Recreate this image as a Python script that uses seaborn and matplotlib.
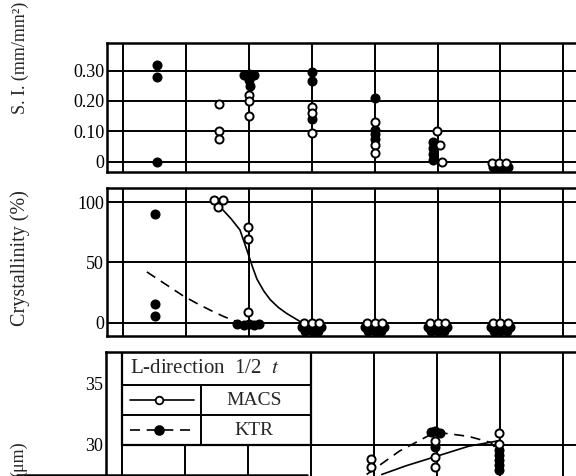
import numpy as np
import pandas as pd
import matplotlib
matplotlib.use("Agg")
import matplotlib.pyplot as plt
import seaborn as sns
from matplotlib.patches import Rectangle
from matplotlib.lines import Line2D

sns.set_theme(style="white")
plt.rcParams['font.family'] = ['Liberation Serif', 'DejaVu Serif']
plt.rcParams['mathtext.fontset'] = 'stix'

# ---------------- data ----------------
# Panel 1 : S.I. (mm/mm^2)
si_macs_x = [1.53, 1.53, 1.53, 2.0, 2.0, 2.0, 3.0, 3.0, 3.0, 4.0, 4.0, 4.0,
             4.99, 5.04, 5.07, 5.87, 5.98, 6.09]
si_macs_y = [0.19, 0.10, 0.075, 0.22, 0.20, 0.15, 0.18, 0.16, 0.095, 0.13, 0.055, 0.03,
             0.10, 0.055, 0.0, -0.005, -0.005, -0.005]
si_ktr_x = [0.535, 0.535, 0.535, 1.93, 2.0, 2.08, 2.0, 2.02, 3.0, 3.0, 3.0,
            4.0, 4.0, 4.0, 4.0, 4.93, 4.93, 4.93, 4.93, 5.88, 5.96, 6.04, 6.12]
si_ktr_y = [0.32, 0.28, 0.0, 0.285, 0.288, 0.287, 0.268, 0.25, 0.295, 0.265, 0.14,
            0.21, 0.105, 0.09, 0.075, 0.065, 0.045, 0.025, 0.005,
            -0.018, -0.018, -0.018, -0.018]

# Panel 2 : Crystallinity (%)
cr_macs_x = [1.45, 1.585, 1.505, 1.99, 1.99, 1.99,
             2.88, 3.0, 3.12, 3.88, 4.0, 4.12, 4.88, 5.0, 5.12, 5.88, 6.0, 6.12]
cr_macs_y = [101.5, 101.5, 96, 79.5, 69, 9,
             0, 0, 0, 0, 0, 0, 0, 0, 0, 0, 0, 0]
cr_ktr_x = [0.51, 0.51, 0.51, 1.82, 1.92, 2.0, 2.08, 2.16,
            2.85, 2.95, 3.05, 3.15, 2.9, 3.0, 3.1,
            3.85, 3.95, 4.05, 4.15, 3.9, 4.0, 4.1,
            4.85, 4.95, 5.05, 5.15, 4.9, 5.0, 5.1,
            5.85, 5.95, 6.05, 6.15, 5.9, 6.0, 6.1]
cr_ktr_y = [90, 15, 5, -1, -2, -1.5, -2, -1,
            -4, -4, -4, -4, -7, -7, -7,
            -4, -4, -4, -4, -7, -7, -7,
            -4, -4, -4, -4, -7, -7, -7,
            -4, -4, -4, -4, -7, -7, -7]
cr_macs_curve_x = [1.59, 1.72, 1.86, 1.99, 2.06, 2.13, 2.24, 2.34, 2.47, 2.6, 2.81]
cr_macs_curve_y = [93.4, 86, 76.8, 57, 46, 36, 26, 19, 12.5, 7.6, 1.0]
cr_ktr_curve_x = [0.38, 0.67, 0.96, 1.17, 1.38, 1.6, 1.81]
cr_ktr_curve_y = [42, 32, 22, 16, 10.4, 5, 0.7]

# Panel 3 : size (um)
gs_macs_x = [3.95, 3.95, 4.97, 4.97, 4.97, 5.98, 5.98]
gs_macs_y = [28.85, 28.2, 30.35, 29.0, 28.2, 31.0, 30.1]
gs_ktr_x = [4.9, 4.97, 5.05, 4.97, 5.98, 5.98, 5.98, 5.98, 5.98]
gs_ktr_y = [31.05, 31.1, 31.0, 29.8, 29.6, 29.2, 28.8, 28.4, 28.0]
gs_macs_curve_x = [4.12, 4.5, 4.97, 5.5, 5.98]
gs_macs_curve_y = [27.6, 28.3, 29.05, 29.9, 30.35]
gs_ktr_curve_x = [3.88, 4.4, 4.97, 5.5, 5.85, 5.95]
gs_ktr_curve_y = [27.6, 29.5, 31.05, 30.7, 30.2, 29.6]

si_ticks = [0, 0.10, 0.20, 0.30]
si_labels = ["0", "0.10", "0.20", "0.30"]
cr_ticks = [0, 50, 100]
cr_labels = ["0", "50", "100"]
gs_ticks = [30, 35]
gs_labels = ["30", "35"]
legend_title = "L-direction  1/2  $t$"
series_names = ["MACS", "KTR"]
ylabels = ["S. I. (mm/mm²)", "Crystallinity (%)", "(μm)"]

# ---------------- layout ----------------
W, H = 576, 476
fig = plt.figure(figsize=(W / 100, H / 100), dpi=100)
fig.patch.set_facecolor("white")


def px_axes(left, top, right, bottom):
    return fig.add_axes([left / W, 1 - bottom / H, (right - left) / W, (bottom - top) / H])


ax1 = px_axes(107, 42.7, 600, 171.7)
ax2 = px_axes(107, 187.7, 600, 336)
ax3 = px_axes(106, 352, 600, 560)

XL = (-0.254, 7.583)
LW_GRID = 1.4
FS = 13
MS = 34


def style(ax, yt, yl, grid_h=True):
    ax.set_xlim(*XL)
    ax.set_facecolor("white")
    ax.set_xticks(range(8))
    ax.set_xticklabels([])
    ax.set_yticks(yt)
    ax.set_yticklabels(yl, fontsize=FS)
    ax.tick_params(axis="x", length=0)
    ax.tick_params(axis="y", direction="in", length=6, width=1.3, color="black", pad=2,
                   labelcolor="black")
    for s in ax.spines.values():
        s.set_color("black")
        s.set_linewidth(1.8)
    ax.set_axisbelow(True)
    if grid_h:
        ax.grid(True, color="black", linewidth=LW_GRID)
    ax.set_xlabel("")
    ax.set_ylabel("")


def open_pts(ax, x, y):
    sns.scatterplot(x=x, y=y, ax=ax, color="white", edgecolor="black", s=MS,
                    linewidth=1.4, zorder=5, legend=False)


def filled_pts(ax, x, y):
    sns.scatterplot(x=x, y=y, ax=ax, color="black", edgecolor="black", s=MS,
                    linewidth=1.4, zorder=4, legend=False)


# Panel 1
ax1.set_ylim(-0.033, 0.392)
filled_pts(ax1, si_ktr_x, si_ktr_y)
open_pts(ax1, si_macs_x, si_macs_y)
style(ax1, si_ticks, si_labels)

# Panel 2
ax2.set_ylim(-11.2, 111.9)
sns.lineplot(x=cr_macs_curve_x, y=cr_macs_curve_y, ax=ax2, color="black", lw=1.2,
             sort=False, estimator=None, zorder=3)
sns.lineplot(x=cr_ktr_curve_x, y=cr_ktr_curve_y, ax=ax2, color="black", lw=1.2,
             sort=False, estimator=None, zorder=3, linestyle=(0, (6, 4)))
filled_pts(ax2, cr_ktr_x, cr_ktr_y)
open_pts(ax2, cr_macs_x, cr_macs_y)
style(ax2, cr_ticks, cr_labels)

# Panel 3
ax3.set_ylim(20.65, 37.56)
style(ax3, gs_ticks, gs_labels, grid_h=False)
for gx in range(8):
    ax3.axvline(gx, color="black", lw=LW_GRID, zorder=1)
ax3.hlines(30, 0, XL[1], color="black", lw=LW_GRID, zorder=1)
sns.lineplot(x=gs_macs_curve_x, y=gs_macs_curve_y, ax=ax3, color="black", lw=1.2,
             sort=False, estimator=None, zorder=3)
sns.lineplot(x=gs_ktr_curve_x, y=gs_ktr_curve_y, ax=ax3, color="black", lw=1.2,
             sort=False, estimator=None, zorder=3, linestyle=(0, (6, 4)))
filled_pts(ax3, gs_ktr_x, gs_ktr_y)
open_pts(ax3, gs_macs_x, gs_macs_y)

# legend table
top = 37.56
ax3.add_patch(Rectangle((0, 30), 3, top - 30, facecolor="white", edgecolor="black",
                        lw=1.6, zorder=2))
ax3.hlines([34.9, 32.4], 0, 3, color="black", lw=1.4, zorder=2.1)
ax3.vlines(1.25, 30, 34.9, color="black", lw=1.4, zorder=2.1)
ax3.text(0.12, 36.2, legend_title, fontsize=15, ha="left", va="center", zorder=6)
ax3.text(2.1, 33.65, series_names[0], fontsize=14, ha="center", va="center", zorder=6)
ax3.text(2.1, 31.2, series_names[1], fontsize=14, ha="center", va="center", zorder=6)
ax3.plot([0.12, 1.14], [33.65, 33.65], color="black", lw=1.2, zorder=6)
ax3.scatter([0.59], [33.65], s=30, facecolor="white", edgecolor="black", lw=1.3, zorder=7)
ax3.plot([0.12, 1.1], [31.2, 31.2], color="black", lw=1.2, zorder=6, linestyle=(0, (6, 4)))
ax3.scatter([0.58], [31.2], s=40, facecolor="black", edgecolor="black", lw=1.3, zorder=7)

# y labels
fig.text(20 / W, 1 - 58 / H, ylabels[0], rotation=90, ha="center", va="center",
         fontsize=FS)
fig.text(20 / W, 1 - 258 / H, ylabels[1], rotation=90, ha="center", va="center",
         fontsize=14.5)
fig.text(19 / W, 1 - 441 / H, ylabels[2], rotation=90, ha="center", va="top",
         fontsize=FS)

# stray scan line at the bottom
fig.add_artist(Line2D([17 / W, 307 / W], [1 - 474.5 / H, 1 - 474.5 / H],
                      color="black", lw=1.8))

fig.savefig("out.png", dpi=100, facecolor="white")
